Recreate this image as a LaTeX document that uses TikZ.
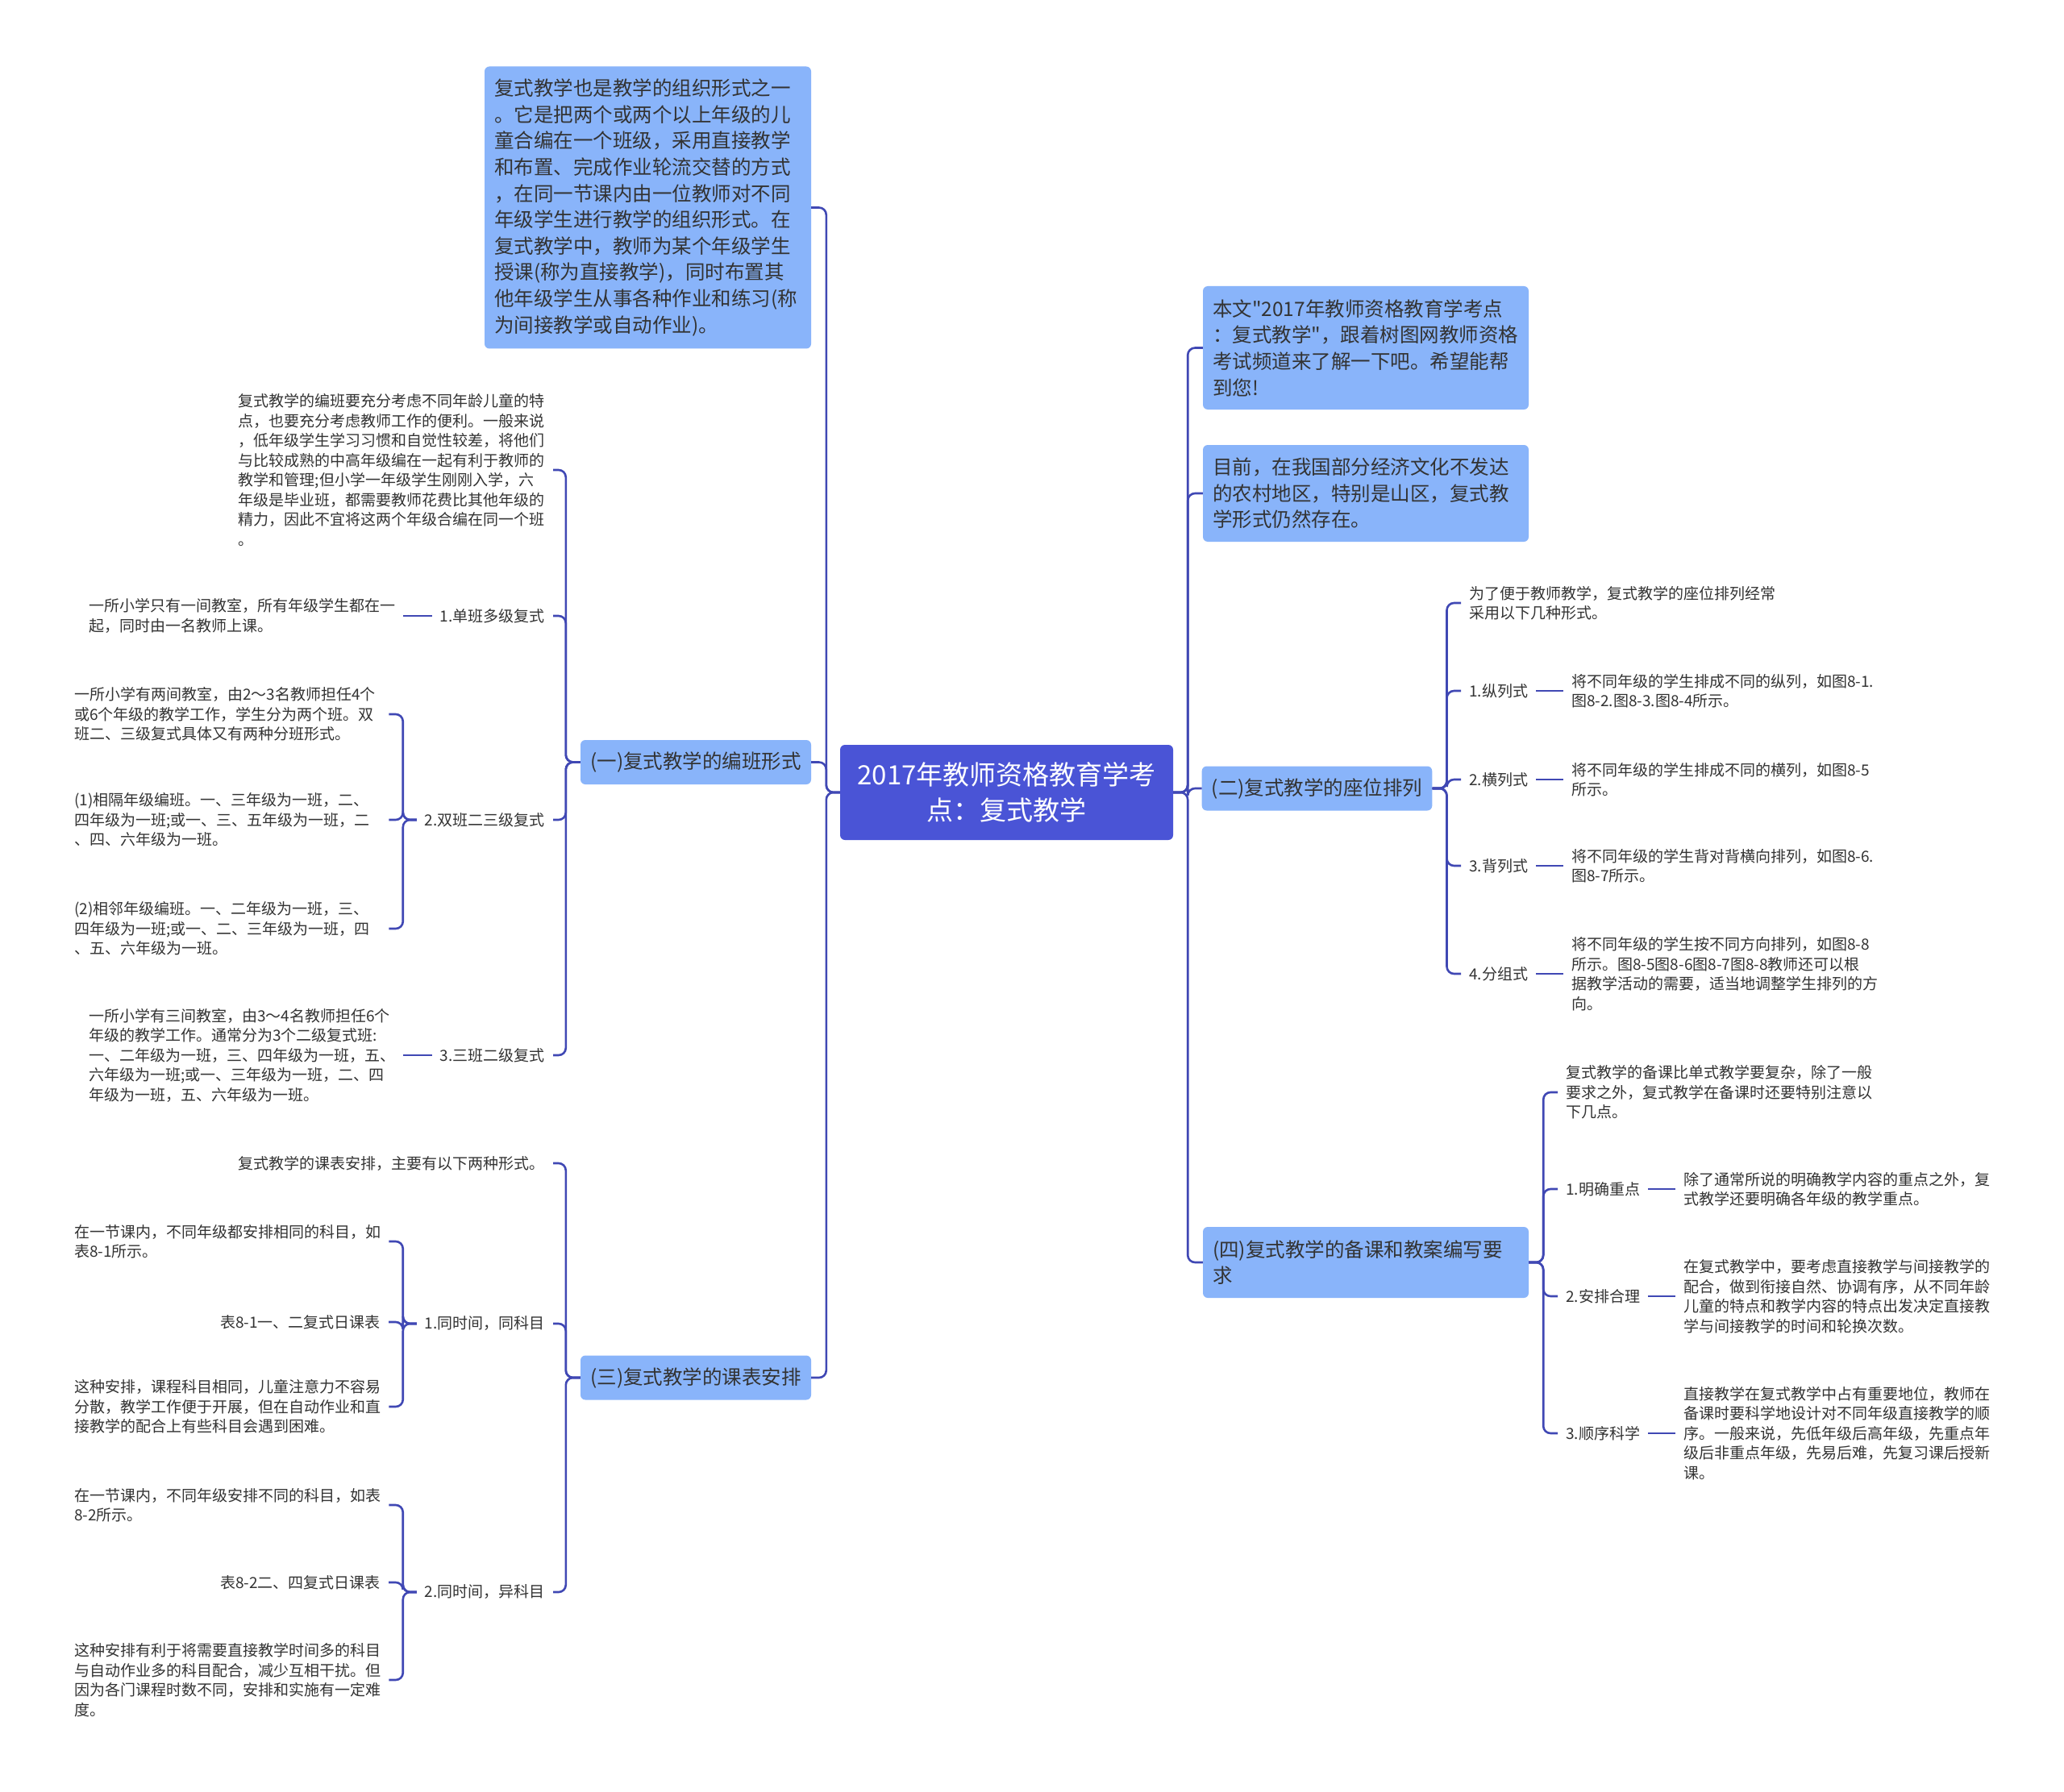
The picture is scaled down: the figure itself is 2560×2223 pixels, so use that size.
\documentclass[tikz,border=0pt]{standalone}
\usepackage{fontspec}
\newfontfamily\cjk{Noto Sans CJK SC}
\definecolor{boxblue}{RGB}{137,180,250}
\definecolor{rootblue}{RGB}{74,84,214}
\definecolor{linkblue}{RGB}{64,72,180}
\definecolor{ink}{RGB}{51,51,51}
\newcommand{\smallcn}{\cjk\fontsize{19}{24.5}\selectfont}
\newcommand{\midcn}{\cjk\fontsize{24.5}{32.6}\selectfont}
\newcommand{\bigcn}{\cjk\fontsize{33}{44}\selectfont}
\begin{document}
\begin{tikzpicture}[x=1pt,y=-1pt,
  topicbox/.style={fill=boxblue,rounded corners=6pt,inner xsep=12pt,inner ysep=6pt,font=\midcn,text=ink,align=left},
  branch/.style={topicbox,minimum width=286pt,minimum height=55pt,align=center},
  leaftext/.style={font=\smallcn,text=ink,inner xsep=10pt,inner ysep=2pt,text width=380pt,align=left},
  leaflabel/.style={font=\smallcn,text=ink,inner xsep=10pt,inner ysep=2pt},
  wire/.style={draw=linkblue,line width=2.6pt,rounded corners=9pt}]
\useasboundingbox[fill=white] (0,0) rectangle (2560,2223);

\node[fill=rootblue,rounded corners=6pt,minimum width=413pt,minimum height=118pt,font=\bigcn,text=white,align=center] (root) at (1248.5,983) {2017年教师资格教育学考\\点：复式教学};

% left side
\node[topicbox,text width=381pt,minimum height=350pt] (tl) at (803.5,257.5) {复式教学也是教学的组织形式之一\\。它是把两个或两个以上年级的儿\\童合编在一个班级，采用直接教学\\和布置、完成作业轮流交替的方式\\，在同一节课内由一位教师对不同\\年级学生进行教学的组织形式。在\\复式教学中，教师为某个年级学生\\授课(称为直接教学)，同时布置其\\他年级学生从事各种作业和练习(称\\为间接教学或自动作业)。};
\node[branch] (b1) at (863,945.5) {(一)复式教学的编班形式};
\node[branch] (b3) at (863,1709) {(三)复式教学的课表安排};

\node[leaftext,anchor=east] (t11) at (686,583) {复式教学的编班要充分考虑不同年龄儿童的特\\点，也要充分考虑教师工作的便利。一般来说\\，低年级学生学习习惯和自觉性较差，将他们\\与比较成熟的中高年级编在一起有利于教师的\\教学和管理;但小学一年级学生刚刚入学，六\\年级是毕业班，都需要教师花费比其他年级的\\精力，因此不宜将这两个年级合编在同一个班\\。};
\node[leaflabel,anchor=east] (l12) at (686,764) {1.单班多级复式};
\node[leaflabel,anchor=east] (l13) at (686,1017) {2.双班二三级复式};
\node[leaflabel,anchor=east] (l14) at (686,1309) {3.三班二级复式};

\node[leaftext,anchor=west] (t121) at (100,764) {一所小学只有一间教室，所有年级学生都在一\\起，同时由一名教师上课。};
\node[leaftext,anchor=west] (t131) at (82,886) {一所小学有两间教室，由2～3名教师担任4个\\或6个年级的教学工作，学生分为两个班。双\\班二、三级复式具体又有两种分班形式。};
\node[leaftext,anchor=west] (t132) at (82,1017) {(1)相隔年级编班。一、三年级为一班，二、\\四年级为一班;或一、三、五年级为一班，二\\、四、六年级为一班。};
\node[leaftext,anchor=west] (t133) at (82,1152) {(2)相邻年级编班。一、二年级为一班，三、\\四年级为一班;或一、二、三年级为一班，四\\、五、六年级为一班。};
\node[leaftext,anchor=west] (t141) at (100,1309) {一所小学有三间教室，由3～4名教师担任6个\\年级的教学工作。通常分为3个二级复式班:\\一、二年级为一班，三、四年级为一班，五、\\六年级为一班;或一、三年级为一班，二、四\\年级为一班，五、六年级为一班。};

\node[leaftext,anchor=east] (t31) at (686,1443) {复式教学的课表安排，主要有以下两种形式。};
\node[leaflabel,anchor=east] (l32) at (686,1642) {1.同时间，同科目};
\node[leaflabel,anchor=east] (l33) at (686,1975) {2.同时间，异科目};

\node[leaftext,anchor=west] (t321) at (82,1540) {在一节课内，不同年级都安排相同的科目，如\\表8-1所示。};
\node[leaflabel,anchor=east] (t322) at (482,1640) {表8-1一、二复式日课表};
\node[leaftext,anchor=west] (t323) at (82,1745) {这种安排，课程科目相同，儿童注意力不容易\\分散，教学工作便于开展，但在自动作业和直\\接教学的配合上有些科目会遇到困难。};
\node[leaftext,anchor=west] (t331) at (82,1867) {在一节课内，不同年级安排不同的科目，如表\\8-2所示。};
\node[leaflabel,anchor=east] (t332) at (482,1963) {表8-2二、四复式日课表};
\node[leaftext,anchor=west] (t333) at (82,2084) {这种安排有利于将需要直接教学时间多的科目\\与自动作业多的科目配合，减少互相干扰。但\\因为各门课程时数不同，安排和实施有一定难\\度。};

% right side
\node[topicbox,text width=380pt,minimum height=153pt] (r1) at (1694,431.5) {本文"2017年教师资格教育学考点\\：复式教学"，跟着树图网教师资格\\考试频道来了解一下吧。希望能帮\\到您!};
\node[topicbox,text width=380pt,minimum height=120pt] (r2) at (1694,612) {目前，在我国部分经济文化不发达\\的农村地区，特别是山区，复式教\\学形式仍然存在。};
\node[branch,minimum width=285pt] (b2) at (1633.5,978) {(二)复式教学的座位排列};
\node[topicbox,text width=380pt,minimum height=88pt] (b4) at (1694,1566) {(四)复式教学的备课和教案编写要\\求};

\node[leaftext,anchor=west] (t21) at (1812,748) {为了便于教师教学，复式教学的座位排列经常\\采用以下几种形式。};
\node[leaflabel,anchor=west] (l22) at (1812,857) {1.纵列式};
\node[leaflabel,anchor=west] (l23) at (1812,967) {2.横列式};
\node[leaflabel,anchor=west] (l24) at (1812,1074) {3.背列式};
\node[leaflabel,anchor=west] (l25) at (1812,1208) {4.分组式};
\node[leaftext,anchor=west] (t22) at (1939,857) {将不同年级的学生排成不同的纵列，如图8-1.\\图8-2.图8-3.图8-4所示。};
\node[leaftext,anchor=west] (t23) at (1939,967) {将不同年级的学生排成不同的横列，如图8-5\\所示。};
\node[leaftext,anchor=west] (t24) at (1939,1074) {将不同年级的学生背对背横向排列，如图8-6.\\图8-7所示。};
\node[leaftext,anchor=west] (t25) at (1939,1208) {将不同年级的学生按不同方向排列，如图8-8\\所示。图8-5图8-6图8-7图8-8教师还可以根\\据教学活动的需要，适当地调整学生排列的方\\向。};

\node[leaftext,anchor=west] (t41) at (1932,1355) {复式教学的备课比单式教学要复杂，除了一般\\要求之外，复式教学在备课时还要特别注意以\\下几点。};
\node[leaflabel,anchor=west] (l42) at (1932,1475) {1.明确重点};
\node[leaflabel,anchor=west] (l43) at (1932,1608) {2.安排合理};
\node[leaflabel,anchor=west] (l44) at (1932,1778) {3.顺序科学};
\node[leaftext,anchor=west] (t42) at (2078,1475) {除了通常所说的明确教学内容的重点之外，复\\式教学还要明确各年级的教学重点。};
\node[leaftext,anchor=west] (t43) at (2078,1608) {在复式教学中，要考虑直接教学与间接教学的\\配合，做到衔接自然、协调有序，从不同年龄\\儿童的特点和教学内容的特点出发决定直接教\\学与间接教学的时间和轮换次数。};
\node[leaftext,anchor=west] (t44) at (2078,1778) {直接教学在复式教学中占有重要地位，教师在\\备课时要科学地设计对不同年级直接教学的顺\\序。一般来说，先低年级后高年级，先重点年\\级后非重点年级，先易后难，先复习课后授新\\课。};

% connectors
\foreach \c in {tl,b1,b3} \draw[wire] (root.west) -- ++(-17,0) |- (\c.east);
\foreach \c in {r1,r2,b2,b4} \draw[wire] (root.east) -- ++(18,0) |- (\c.west);
\foreach \c in {t11,l12,l13,l14} \draw[wire] (b1.west) -- ++(-18,0) |- (\c.east);
\foreach \c in {t131,t132,t133} \draw[wire] (l13.west) -- ++(-17,0) |- (\c.east);
\foreach \c in {t31,l32,l33} \draw[wire] (b3.west) -- ++(-18,0) |- (\c.east);
\foreach \c in {t321,t322,t323} \draw[wire] (l32.west) -- ++(-17,0) |- (\c.east);
\foreach \c in {t331,t332,t333} \draw[wire] (l33.west) -- ++(-17,0) |- (\c.east);
\draw[wire] (l12.west) -- (t121.east);
\draw[wire] (l14.west) -- (t141.east);
\foreach \c in {t21,l22,l23,l24,l25} \draw[wire] (b2.east) -- ++(18,0) |- (\c.west);
\foreach \c in {t41,l42,l43,l44} \draw[wire] (b4.east) -- ++(18,0) |- (\c.west);
\foreach \a/\b in {l22/t22,l23/t23,l24/t24,l25/t25,l42/t42,l43/t43,l44/t44} \draw[wire] (\a.east) -- (\b.west);
\end{tikzpicture}
\end{document}
